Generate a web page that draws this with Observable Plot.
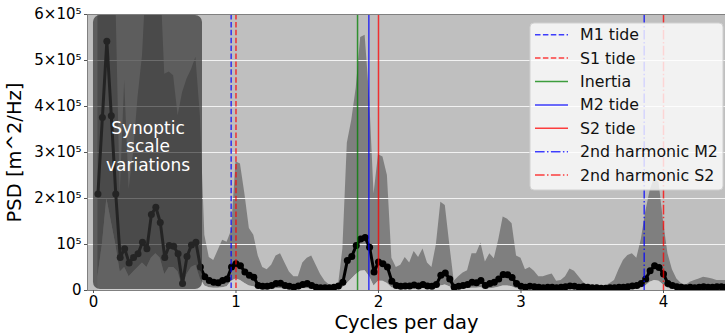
<!DOCTYPE html>
<html><head><meta charset="utf-8">
<script src="https://cdn.jsdelivr.net/npm/d3@7"></script>
<script src="https://cdn.jsdelivr.net/npm/@observablehq/plot@0.6"></script>
<style>
body{margin:0;background:#fff;}
#chart{width:725px;height:336px;}
</style></head><body><div id="chart"></div>
<script>
// Frequency resolution of the spectrum (cycles per day)
const df = 1/32;
const unit = 1e5; // values below are in units of 1e5 m^2/Hz
// Median PSD (black line with dots)
const psd = [2.10,3.76,5.42,3.80,2.10,0.72,0.91,0.60,0.72,0.80,
 1.05,0.91,1.65,1.81,1.48,0.72,0.98,0.96,0.80,0.15,
 0.74,0.99,1.05,0.51,0.30,0.22,0.18,0.17,0.22,0.25,
 0.51,0.58,0.54,0.40,0.33,0.29,0.11,0.09,0.09,0.11,
 0.15,0.16,0.11,0.09,0.07,0.10,0.13,0.15,0.11,0.07,
 0.06,0.06,0.06,0.07,0.10,0.18,0.65,0.74,0.98,1.12,
 1.15,0.94,0.40,0.62,0.58,0.51,0.20,0.11,0.09,0.10,
 0.10,0.12,0.10,0.13,0.10,0.09,0.13,0.33,0.38,0.25,
 0.07,0.09,0.11,0.13,0.18,0.17,0.22,0.11,0.15,0.18,
 0.25,0.35,0.34,0.28,0.15,0.09,0.07,0.09,0.08,0.07,
 0.06,0.07,0.07,0.06,0.07,0.08,0.10,0.09,0.07,0.08,
 0.07,0.06,0.06,0.05,0.05,0.06,0.06,0.07,0.07,0.08,
 0.10,0.11,0.15,0.25,0.43,0.54,0.50,0.36,0.15,0.11,
 0.08,0.07,0.06,0.07,0.06,0.07,0.08,0.07,0.07,0.08,
 0.08,0.07];
// Upper bound of the spread band
const upper = [6.5,8,9,8,6.5,2.1,4.57,2.2,3.0,4.2,
 5.1,7,8,8,7,4.7,4.75,4.67,3.8,4.3,
 4.6,4.8,5.07,3.8,1.2,0.72,0.65,0.87,1.09,1.05,
 1.3,2.8,2.75,2.1,1.35,1.2,0.75,0.5,0.45,0.55,
 0.75,0.8,0.6,0.4,0.3,0.3,0.6,0.7,0.75,0.55,
 0.35,0.2,0.12,0.08,0.1,0.9,3.2,3.7,4.4,5.5,
 5.55,4.2,2.1,2.95,2.9,2.5,0.7,0.5,0.55,0.72,
 0.6,0.85,0.72,0.9,0.6,0.5,1.0,1.92,1.85,1.0,
 0.2,0.3,0.38,0.43,0.8,0.8,1.03,0.62,0.8,0.69,
 1.1,1.6,1.55,1.45,0.75,0.7,0.45,0.5,0.42,0.3,
 0.3,0.33,0.36,0.2,0.22,0.3,0.47,0.42,0.3,0.18,
 0.1,0.08,0.07,0.07,0.1,0.15,0.22,0.45,0.65,0.76,
 0.8,0.7,1.1,1.7,2.17,2.46,2.35,1.5,0.8,0.45,
 0.25,0.15,0.11,0.18,0.22,0.25,0.29,0.27,0.25,0.22,
 0.22,0.22];
// Lower bound of the spread band
const lower = [0.3,1.0,2.0,1.5,1.0,0.4,0.5,0.3,0.4,0.5,
 0.6,0.5,0.7,0.8,0.7,0.35,0.5,0.5,0.4,0.05,
 0.35,0.5,0.55,0.25,0.1,0.06,0.05,0.05,0.06,0.08,
 0.2,0.25,0.22,0.15,0.1,0.08,0.03,0.02,0.02,0.03,
 0.04,0.04,0.03,0.02,0.02,0.03,0.04,0.04,0.03,0.02,
 0.02,0.02,0.02,0.02,0.03,0.06,0.15,0.25,0.35,0.42,
 0.43,0.3,0.1,0.2,0.2,0.15,0.06,0.03,0.02,0.03,
 0.03,0.03,0.03,0.04,0.03,0.02,0.04,0.1,0.12,0.08,
 0.02,0.03,0.03,0.04,0.05,0.05,0.06,0.03,0.04,0.05,
 0.07,0.1,0.1,0.08,0.04,0.03,0.02,0.03,0.02,0.02,
 0.02,0.02,0.02,0.02,0.02,0.02,0.03,0.03,0.02,0.02,
 0.02,0.02,0.02,0.01,0.01,0.02,0.02,0.02,0.02,0.02,
 0.03,0.03,0.05,0.1,0.18,0.22,0.2,0.12,0.05,0.03,
 0.02,0.02,0.02,0.02,0.02,0.02,0.02,0.02,0.02,0.02,
 0.02,0.02];

// Tidal / inertial reference frequencies (cycles per day)
const tideNames = ["M1 tide","S1 tide","Inertia","M2 tide","S2 tide","2nd harmonic M2","2nd harmonic S2"];
const tideFreqs = [0.9661, 1.0, 1.853, 1.9323, 2.0, 3.8645, 4.0];
const tideColors = ["blue","red","green","blue","red","blue","red"];
const tideStyles = ["dashed","dashed","solid","solid","solid","dashdot","dashdot"];

// Synoptic band (cycles per day) and its label
const synopticRange = [0, 0.765];
const synopticLabel = "Synoptic\nscale\nvariations";

const xTicks = [0,1,2,3,4];
const yTicks = [0,1,2,3,4,5,6];

const dashes = {solid: null, dashed: "5.5,2.4", dashdot: "9.6,2.4,1.5,2.4"};
const rows = psd.map((v,i) => ({f:(i+1)*df, p:v*unit, lo:lower[i]*unit, hi:upper[i]*unit}));
const tides = tideNames.map((n,i) => ({name:n, f:tideFreqs[i], color:tideColors[i], dash:dashes[tideStyles[i]]}));
const yFmt = d => d === 0 ? "0" : (Math.round(d/unit) === 1 ? "10⁵" : `${Math.round(d/unit)}×10⁵`);

const chart = Plot.plot({
  width: 725, height: 336,
  marginLeft: 87, marginRight: 0, marginTop: 14, marginBottom: 46,
  style: {fontFamily: "DejaVu Sans", fontSize: "15px", background: "#fff", color: "#000", overflow: "visible"},
  x: {domain: [-0.042, 4.435]},
  y: {domain: [0, 6*unit]},
  marks: [
    Plot.frame({fill: "#bfbfbf"}),
    Plot.areaY(rows, {x: "f", y1: "lo", y2: "hi", fill: "#7f7f7f", clip: true}),
    Plot.areaY(rows, {x: "f", y1: 0, y2: "lo", fill: "#cfcfcf", clip: true}),
    Plot.gridY(yTicks.map(t => t*unit), {stroke: "#f2f2f2", strokeOpacity: 1, strokeWidth: 1}),
    Plot.line(rows, {x: "f", y: "p", stroke: "#000", strokeWidth: 3, clip: true}),
    Plot.dot(rows, {x: "f", y: "p", fill: "#000", r: 3.5, clip: true}),
    Plot.rect([synopticRange], {x1: d => d[0], x2: d => d[1], y1: 0.02*unit, y2: 5.98*unit, fill: "#333", fillOpacity: 0.7, rx: 7}),
    Plot.text([synopticLabel], {x: (synopticRange[0]+synopticRange[1])/2, y: 3.13*unit, text: d => d, fill: "white", fontSize: 17, lineHeight: 1.08}),
    ...tides.map(t => Plot.ruleX([t], {x: "f", stroke: t.color, strokeOpacity: 0.75, strokeWidth: 1.5, strokeDasharray: t.dash})),
    Plot.frame({stroke: "#808080", strokeWidth: 1}),
    Plot.axisX(xTicks, {tickSize: 3, tickPadding: 3, stroke: "#555", tickFormat: d => String(d), label: "Cycles per day", labelAnchor: "center", labelArrow: "none", labelOffset: 38}),
    Plot.axisY(yTicks.map(t => t*unit), {tickSize: 3, tickPadding: 3, stroke: "#555", tickFormat: yFmt, label: "PSD [m^2/Hz]", labelAnchor: "center", labelArrow: "none", labelOffset: 80})
  ]
});
document.getElementById("chart").appendChild(chart);

// enlarge axis titles
const svg = d3.select(chart);
svg.selectAll('g[aria-label="x-axis label"] text, g[aria-label="y-axis label"] text').attr("font-size", 19.5);

// legend
const lg = svg.append("g").attr("font-family", "DejaVu Sans").attr("font-size", 15.8).attr("text-anchor", "start");
lg.append("rect").attr("x", 530).attr("y", 23).attr("width", 193).attr("height", 167).attr("rx", 4)
  .attr("fill", "#fff").attr("fill-opacity", 0.8).attr("stroke", "#d0d0d0");
tides.forEach((t, i) => {
  const cy = 34.7 + i*23.4;
  lg.append("line").attr("x1", 535).attr("x2", 568).attr("y1", cy).attr("y2", cy)
    .attr("stroke", t.color).attr("stroke-opacity", 0.75).attr("stroke-width", 1.5)
    .attr("stroke-dasharray", t.dash);
  lg.append("text").attr("x", 580).attr("y", cy).attr("dy", "0.35em").attr("text-anchor", "start").attr("fill", "#111").text(t.name);
});
</script></body></html>
